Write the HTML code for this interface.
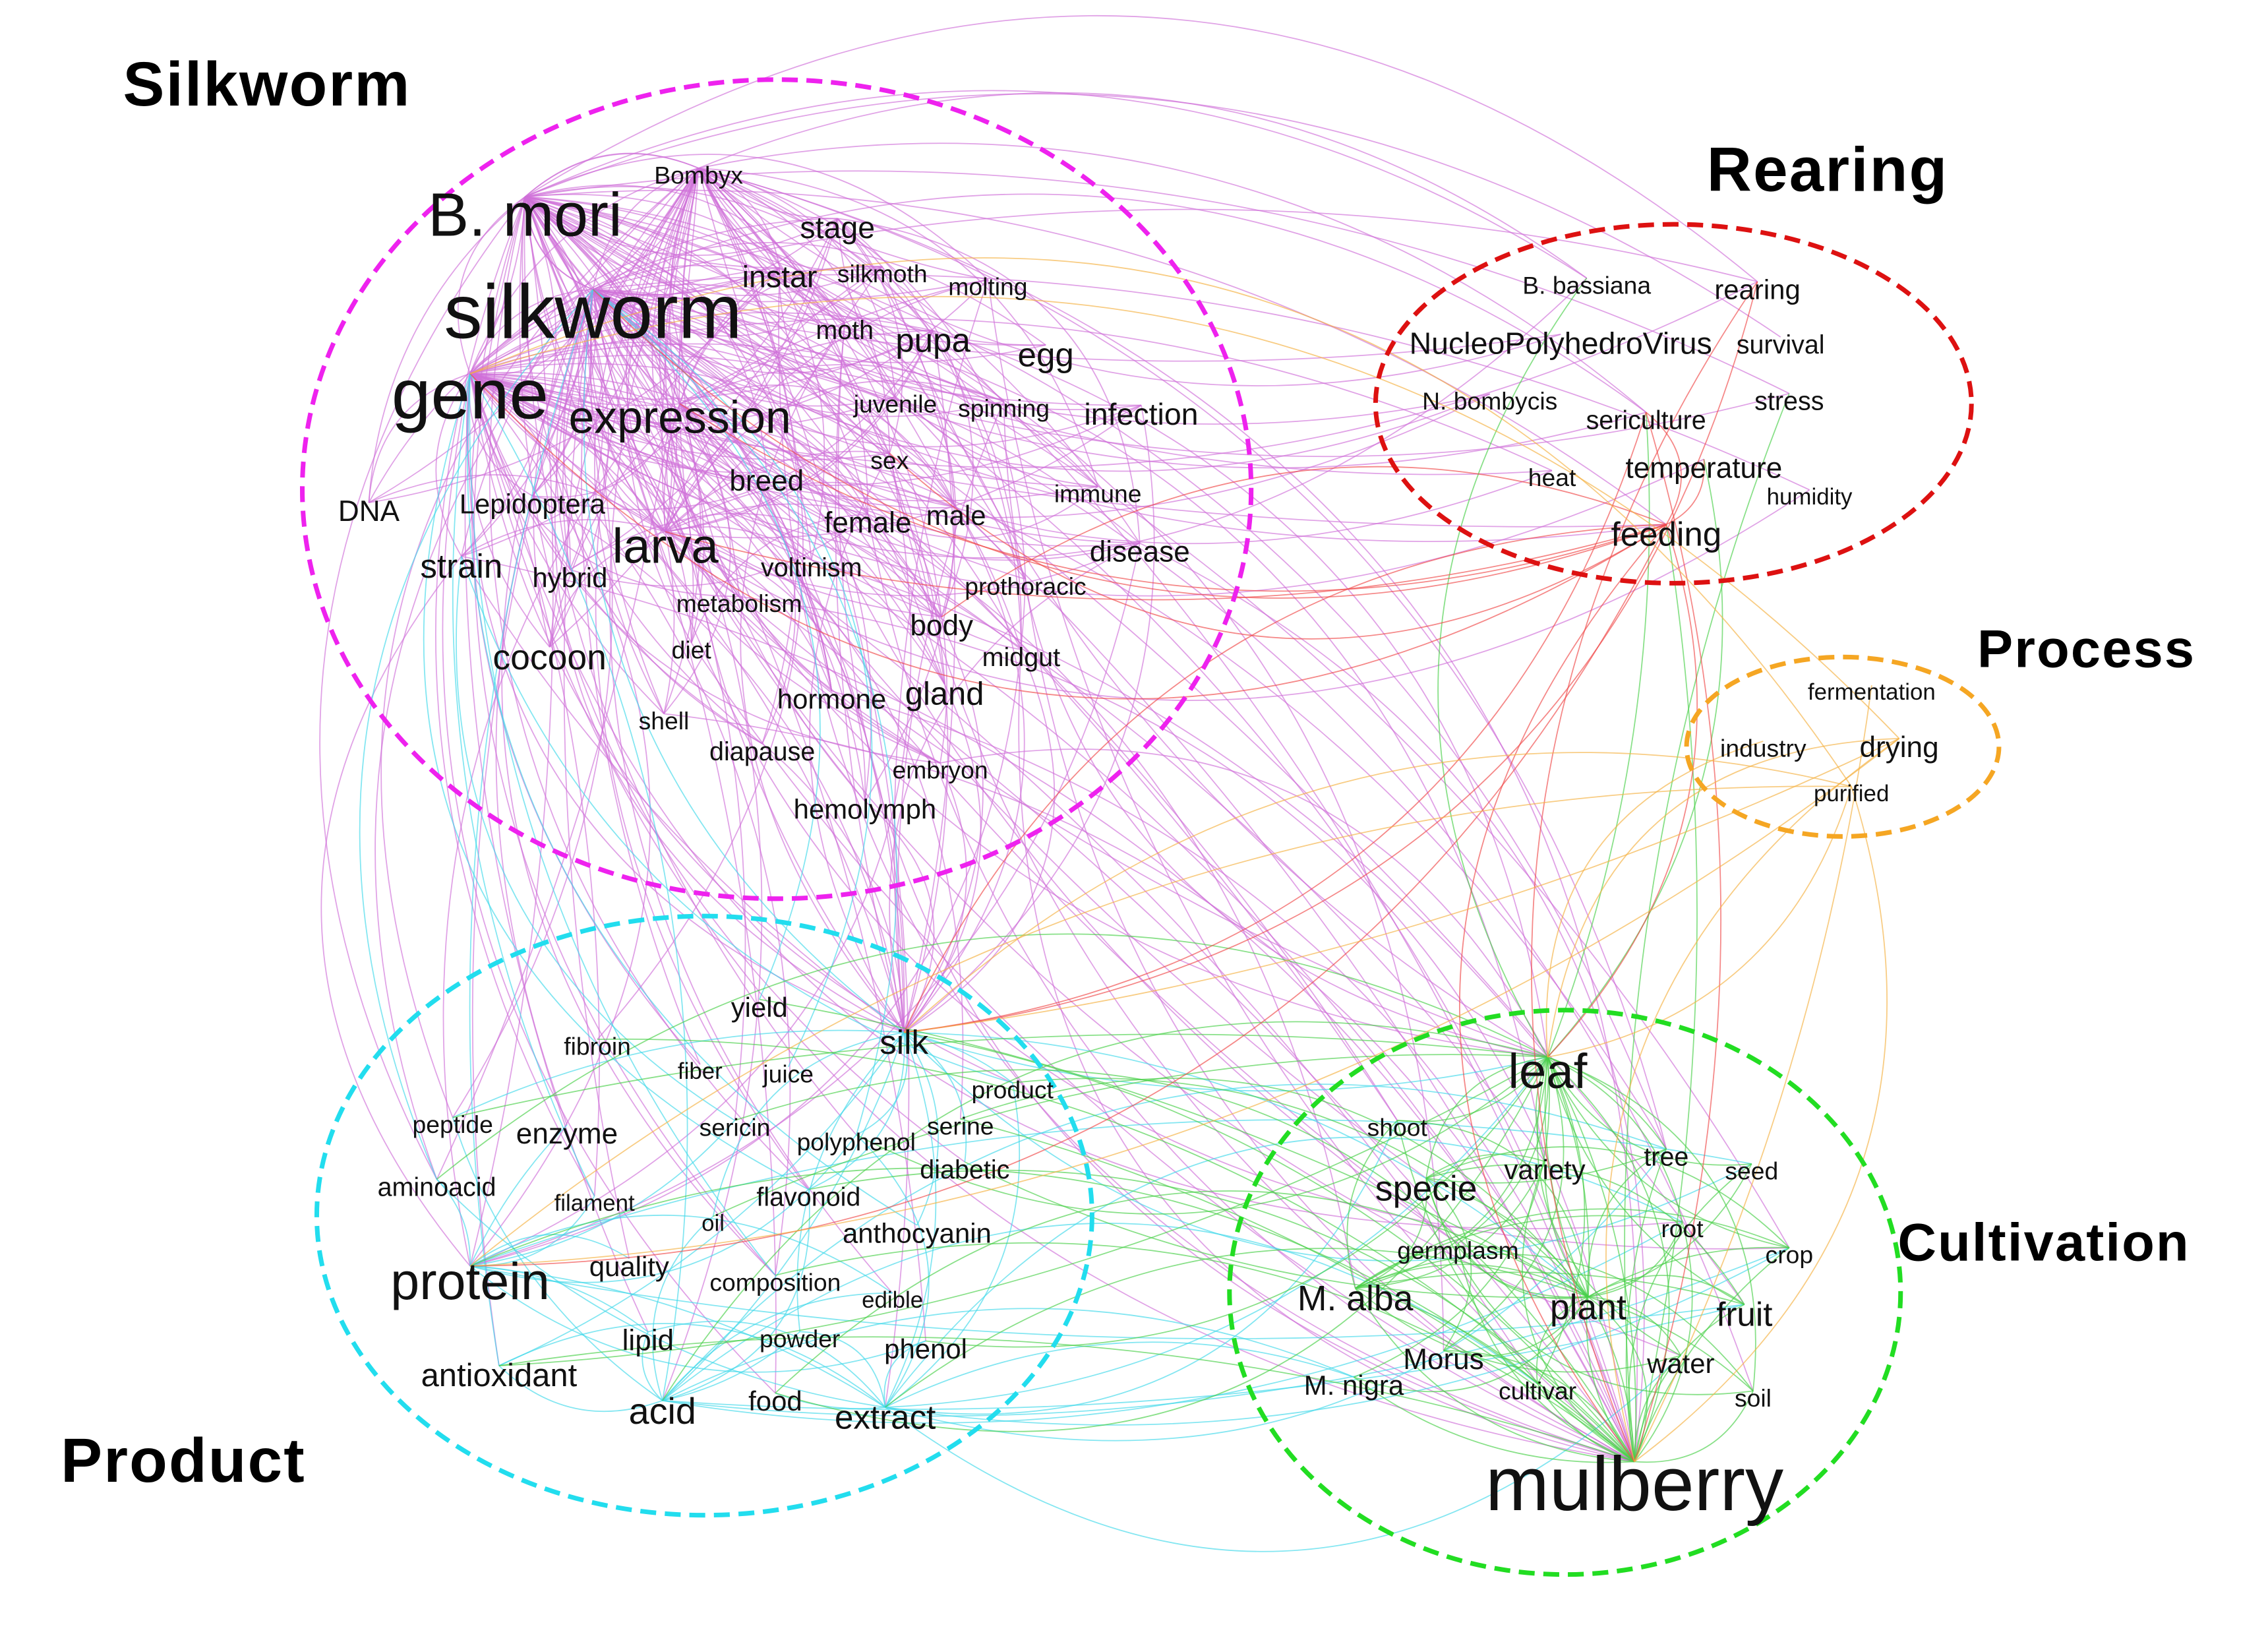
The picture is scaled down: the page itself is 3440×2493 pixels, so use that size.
<!DOCTYPE html>
<html><head><meta charset="utf-8">
<style>
html,body{margin:0;padding:0;background:#fff;}
svg{display:block;}
text{font-family:"Liberation Sans",Arial,sans-serif;fill:#111;}
.t{font-weight:bold;fill:#000;letter-spacing:1px;}
</style></head>
<body>
<svg id="s" width="3440" height="2493" viewBox="0 0 1568 1136" preserveAspectRatio="none" xmlns="http://www.w3.org/2000/svg">
<rect width="1568" height="1136" fill="#fff"/>
<g id="edges" fill="none" stroke-width="0.8"></g>
<g fill="none" stroke-width="3.2" stroke-dasharray="11 6">
<ellipse cx="537" cy="338" rx="328" ry="283" stroke="#ee22ee"/>
<ellipse cx="1157" cy="279" rx="206" ry="124" stroke="#dd1111"/>
<ellipse cx="1274" cy="516" rx="108" ry="62" stroke="#f5a623"/>
<ellipse cx="487" cy="840" rx="268" ry="207" stroke="#22ddee"/>
<ellipse cx="1082" cy="893" rx="232" ry="195" stroke="#22dd22"/>
</g>
<text class="t" x="85" y="73" font-size="43">Silkworm</text>
<text class="t" x="1180" y="132" font-size="43">Rearing</text>
<text class="t" x="1367" y="461" font-size="37">Process</text>
<text class="t" x="1312" y="871" font-size="37">Cultivation</text>
<text class="t" x="42" y="1024" font-size="43">Product</text>
<g id="labels" text-anchor="middle"></g>
</svg>
<script>
var N=[
["Bombyx",483,121,16,0],["B. mori",363,148,40,0],["stage",579,157,20,0],["silkworm",410,215,50,0],
["instar",539,191,20,0],["silkmoth",610,189,16,0],["molting",683,198,16,0],["moth",584,228,17,0],
["pupa",645,235,22,0],["egg",723,245,22,0],["gene",325,272,46,0],["expression",470,288,30,0],
["juvenile",619,279,16,0],["spinning",694,282,16,0],["infection",789,286,20,0],["sex",615,318,16,0],
["breed",530,332,19,0],["immune",759,341,16,0],["DNA",255,353,19,0],["Lepidoptera",368,348,18,0],
["female",600,361,19,0],["male",661,356,18,0],["larva",460,377,32,0],["disease",788,381,19,0],
["strain",319,391,22,0],["hybrid",394,399,18,0],["voltinism",561,392,17,0],["prothoracic",709,405,16,0],
["metabolism",511,417,16,0],["body",651,432,19,0],["diet",478,449,16,0],["midgut",706,454,17,0],
["cocoon",380,454,23,0],["hormone",575,483,18,0],["gland",653,479,21,0],["shell",459,498,16,0],
["diapause",527,519,17,0],["embryon",650,532,16,0],["hemolymph",598,559,18,0],
["B. bassiana",1097,197,16,1],["rearing",1215,200,18,1],["NucleoPolyhedroVirus",1079,237,20,1],
["survival",1231,238,17,1],["N. bombycis",1030,277,16,1],["stress",1237,277,17,1],
["sericulture",1138,290,17,1],["temperature",1178,323,19,1],["heat",1073,330,16,1],
["humidity",1251,343,15,1],["feeding",1152,369,22,1],
["fermentation",1294,478,15,2],["industry",1219,517,16,2],["drying",1313,516,19,2],["purified",1280,548,15,2],
["yield",525,696,18,3],["silk",625,720,22,3],["fibroin",413,723,16,3],["fiber",484,740,15,3],
["juice",545,742,16,3],["product",700,753,16,3],["peptide",313,777,16,3],["enzyme",392,783,19,3],
["sericin",508,779,16,3],["serine",664,778,16,3],["polyphenol",592,789,16,3],["diabetic",667,808,17,3],
["aminoacid",302,820,17,3],["filament",411,831,15,3],["flavonoid",559,827,17,3],["oil",493,845,15,3],
["anthocyanin",634,852,18,3],["protein",325,885,34,3],["quality",435,875,18,3],["composition",536,886,16,3],
["edible",617,898,15,3],["lipid",448,926,19,3],["powder",553,925,16,3],["phenol",640,932,18,3],
["antioxidant",345,950,21,3],["acid",458,975,24,3],["food",536,968,18,3],["extract",612,979,22,3],
["leaf",1070,740,32,4],["shoot",966,779,16,4],["tree",1152,799,17,4],["variety",1068,808,18,4],
["seed",1211,809,16,4],["specie",986,821,23,4],["root",1163,849,16,4],["germplasm",1008,864,16,4],
["crop",1237,867,16,4],["M. alba",937,897,23,4],["plant",1098,903,23,4],["fruit",1206,908,22,4],
["Morus",998,939,19,4],["water",1162,942,18,4],["M. nigra",936,957,18,4],["cultivar",1063,961,16,4],
["soil",1212,966,16,4],["mulberry",1130,1025,50,4]
];
var idx={};N.forEach(function(n,i){idx[n[0]]=i;});
var NS="http://www.w3.org/2000/svg";
var seed=12345;function rnd(){seed=(seed*1103515245+12345)%2147483648;return seed/2147483648;}
var eg=document.getElementById("edges");
var C=["#d070d8","#f04848","#f5b040","#40d8ea","#48d048"];
function edge(a,b,col){
 var A=N[idx[a]],B=N[idx[b]];if(!A||!B||A===B)return;
 var x1=A[1],y1=A[2]-A[3]*0.3,x2=B[1],y2=B[2]-B[3]*0.3;
 var dx=x2-x1,dy=y2-y1;
 var k=(rnd()*0.35+0.08)*(rnd()<0.5?-1:1);
 var cx=(x1+x2)/2-dy*k,cy=(y1+y2)/2+dx*k;
 var p=document.createElementNS(NS,"path");
 p.setAttribute("d","M"+x1+" "+y1+" Q"+cx.toFixed(1)+" "+cy.toFixed(1)+" "+x2+" "+y2);
 p.setAttribute("stroke",col);p.setAttribute("stroke-opacity","0.65");
 eg.appendChild(p);
}
function grp(g){return N.filter(function(n){return n[4]===g;}).map(function(n){return n[0];});}
var G0=grp(0),G1=grp(1),G2=grp(2),G3=grp(3),G4=grp(4);
["B. mori","silkworm","gene","Bombyx"].forEach(function(h){
 G0.forEach(function(t){edge(h,t,C[0]);});
});
["expression","larva"].forEach(function(h){
 G0.forEach(function(t){if(rnd()<0.5)edge(h,t,C[0]);});
});
["stage","pupa","instar","female","body"].forEach(function(h){
 G0.forEach(function(t){if(rnd()<0.15)edge(h,t,C[0]);});
});
["B. mori","silkworm","Bombyx","gene"].forEach(function(h){
 G1.forEach(function(t){if(rnd()<0.5)edge(h,t,C[0]);});
 G3.forEach(function(t){if(rnd()<0.2)edge(h,t,C[0]);});
 G4.forEach(function(t){if(rnd()<0.3)edge(h,t,C[0]);});
});
G0.forEach(function(t){if(rnd()<0.4)edge(t,"silk",C[0]);if(rnd()<0.3)edge(t,"mulberry",C[0]);if(rnd()<0.2)edge(t,"protein",C[0]);if(rnd()<0.15)edge(t,"leaf",C[0]);});
["silkworm","gene","strain"].forEach(function(h){
 G3.forEach(function(t){if(rnd()<0.25)edge(h,t,C[3]);});
});
["protein","silk","acid","extract"].forEach(function(h){
 G3.forEach(function(t){if(rnd()<0.3)edge(h,t,C[3]);});
 G4.forEach(function(t){if(rnd()<0.15)edge(h,t,C[3]);});
});
["mulberry","leaf","plant"].forEach(function(h){
 G4.forEach(function(t){edge(h,t,C[4]);});
 G3.forEach(function(t){if(rnd()<0.3)edge(h,t,C[4]);});
});
["M. alba","specie"].forEach(function(h){
 G4.forEach(function(t){if(rnd()<0.4)edge(h,t,C[4]);});
});
G1.forEach(function(t){if(rnd()<0.35)edge(t,"mulberry",C[4]);if(rnd()<0.25)edge(t,"leaf",C[4]);});
["larva","gene","silkworm","expression","silk","mulberry","leaf","protein","sex","body","sericulture","temperature"].forEach(function(t){edge("feeding",t,C[1]);});
["silk","mulberry"].forEach(function(t){edge("rearing",t,C[1]);edge("sericulture",t,C[1]);});
["gene","mulberry","silk","leaf","protein"].forEach(function(t){edge("drying",t,C[2]);edge("purified",t,C[2]);});
edge("industry","leaf",C[2]);edge("fermentation","mulberry",C[2]);
var lg=document.getElementById("labels");
N.forEach(function(n){
 var t=document.createElementNS(NS,"text");
 var fs=n[3]*1.06;
 t.setAttribute("x",n[1]);t.setAttribute("y",n[2]+fs*0.35);
 t.setAttribute("font-size",fs.toFixed(1));t.textContent=n[0];lg.appendChild(t);
});
</script>
</body></html>
